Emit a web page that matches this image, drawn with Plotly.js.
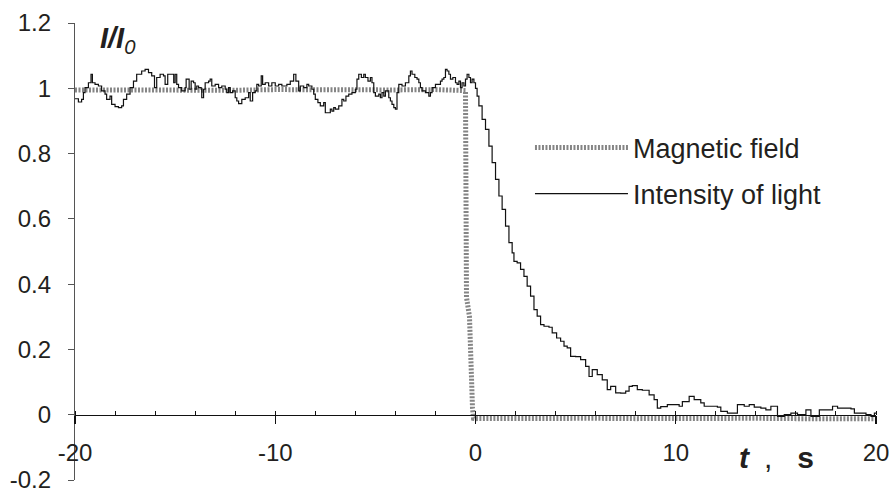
<!DOCTYPE html>
<html>
<head>
<meta charset="utf-8">
<script src="https://cdn.plot.ly/plotly-3.0.1.min.js"></script>
<style>html,body{margin:0;padding:0;background:#fff;}#chart{width:889px;height:493px;}</style>
</head>
<body>
<div id="chart"></div>
<script>
// Intensity of light (I/I0) vs time t, s
var lightT = [
-20,-19.83,-19.67,-19.58,-19.5,-19.33,-19.2,-19.13,-19.0,-18.83,-18.67,-18.5,-18.42,-18.25,-18.17,-18.0,-17.83,-17.67,-17.58,-17.42,
-17.25,-17.08,-16.92,-16.67,-16.5,-16.33,-16.17,-16.03,-15.92,-15.75,-15.58,-15.5,-15.37,-15.17,-15.07,-15.0,-14.92,
-14.83,-14.67,-14.5,-14.45,-14.3,-14.2,-14.08,-14.0,-13.92,-13.83,-13.7,-13.67,-13.58,-13.5,-13.33,-13.25,-13.17,-13.0,
-12.83,-12.67,-12.5,-12.42,-12.33,-12.25,-12.13,-12.0,-11.92,-11.83,-11.67,-11.5,-11.33,-11.25,-11.13,-11.0,-10.92,-10.83,
-10.7,-10.63,-10.5,-10.33,-10.17,-10.0,
-9.83,-9.67,-9.42,-9.25,-9.08,-8.97,-8.83,-8.75,-8.58,-8.42,-8.33,-8.17,-8.08,-8.0,-7.87,-7.75,-7.58,-7.5,-7.25,-7.17,
-7.08,-7.0,-6.83,-6.67,-6.58,-6.47,-6.33,-6.17,-6.0,-5.92,-5.83,-5.7,-5.58,-5.5,-5.37,-5.25,-5.17,-5.08,-5.0,
-4.83,-4.75,-4.67,-4.58,-4.5,-4.33,-4.25,-4.17,-4.08,-4.0,-3.92,-3.83,-3.67,-3.5,-3.33,-3.25,-3.17,-3.03,-2.92,-2.83,
-2.75,-2.67,-2.5,-2.33,-2.25,-2.17,-2.0,-1.75,-1.67,-1.58,-1.5,-1.42,-1.33,-1.25,-1.13,-1.0,-0.92,-0.83,-0.75,-0.67,
-0.58,-0.5,-0.42,-0.33,-0.25,-0.17,-0.08,
0.0,0.08,0.17,0.33,0.5,0.67,0.83,1.0,1.17,1.33,1.5,1.67,1.83,1.92,2.08,2.25,2.42,2.58,2.75,2.92,3.08,3.25,3.42,3.67,3.83,
4.05,4.25,4.42,4.58,4.75,5.0,5.25,5.5,5.67,5.83,6.08,6.33,6.58,6.75,7.0,7.25,7.5,7.67,7.83,8.08,8.33,8.67,8.92,9.08,9.25,
9.58,9.92,10.17,10.33,10.67,10.92,11.25,11.42,11.75,12.08,12.25,12.58,12.92,13.08,13.42,13.67,13.92,14.25,14.5,14.75,
15.08,15.42,15.75,16.08,16.5,16.75,17.17,17.58,17.83,18.08,18.42,18.75,18.92,19.25,19.5,19.75,19.92,20
];
var lightI = [
0.968,0.958,0.966,0.987,1.002,1.017,1.043,1.017,1.012,1.007,0.992,0.982,0.966,0.976,0.951,0.944,0.941,0.946,0.966,0.982,
1.002,1.022,1.043,1.053,1.058,1.048,1.038,1.002,1.033,1.043,1.038,1.012,1.043,1.043,1.017,1.043,1.012,
1.002,0.992,1.002,1.028,0.997,1.022,1.017,0.997,1.007,1.002,0.997,0.971,0.997,1.017,1.022,1.028,1.007,1.012,
1.002,1.007,0.997,0.987,1.002,0.987,0.992,0.971,0.961,0.953,0.966,0.971,0.987,0.961,0.987,0.992,1.012,1.007,
1.038,1.012,1.017,1.007,1.017,1.007,
1.012,1.007,1.012,1.022,1.043,1.022,0.992,1.007,1.002,1.012,1.007,0.997,0.982,0.966,0.956,0.946,0.956,0.925,0.936,0.930,
0.941,0.936,0.946,0.966,0.961,0.976,0.982,0.987,0.997,1.028,1.043,1.033,1.043,1.033,1.022,1.033,1.017,0.987,0.976,
0.982,0.971,0.987,0.976,0.992,0.971,0.961,0.951,0.941,0.936,0.987,1.012,1.007,1.017,1.038,1.053,1.043,1.033,1.028,1.017,
1.002,0.992,0.987,0.976,0.987,1.002,1.012,1.022,1.028,1.033,1.058,1.053,1.043,1.028,1.033,1.017,1.012,1.022,1.002,1.017,
1.007,1.028,1.043,1.033,1.017,1.028,1.017,
1.0,0.976,0.946,0.905,0.874,0.823,0.772,0.721,0.670,0.629,0.578,0.527,0.496,0.470,0.465,0.445,0.424,0.394,0.363,0.322,0.302,0.276,0.271,0.268,0.251,
0.235,0.225,0.21,0.205,0.179,0.178,0.169,0.148,0.117,0.138,0.123,0.107,0.077,0.087,0.067,0.066,0.072,0.087,0.089,0.077,0.075,0.061,0.046,0.02,0.025,
0.031,0.031,0.026,0.04,0.056,0.046,0.036,0.026,0.026,0.023,0.01,0.005,0.005,0.031,0.026,0.031,0.023,0.02,0.015,0.026,
-0.005,0.0,0.005,0.0,0.015,-0.005,0.015,0.015,0.026,0.02,0.02,0.018,0.005,0.005,0.0,-0.005,0.005,0.005
];

// Magnetic field (normalised)
var fieldT = [-20,-18,-16,-14,-12,-10,-8,-6,-4,-2,-0.8,-0.5,-0.45,-0.3,-0.15,-0.1,0,2,4,6,8,10,12,14,16,18,20];
var fieldV = [0.995,0.994,0.996,0.995,0.994,0.996,0.995,0.996,0.995,0.996,0.995,0.993,0.36,0.3,0.02,-0.011,-0.012,-0.011,-0.012,-0.011,-0.012,-0.011,-0.012,-0.011,-0.012,-0.011,-0.012];

var xTickVals = [-20,-10,0,10,20];
var xTickText = ['-20','-10','0','10','20'];
var yTickVals = [-0.2,0,0.2,0.4,0.6,0.8,1,1.2];
var yTickText = ['-0.2','0','0.2','0.4','0.6','0.8','1','1.2'];

var seriesNames = ['Magnetic field','Intensity of light'];

var FONT = 'Liberation Sans, Arial, sans-serif';
var TXT = '#231f20';

var traces = [
  {x: fieldT, y: fieldV, mode: 'lines', name: seriesNames[0], legendgroup: 'a',
   line: {color: '#858585', width: 5, dash: '2px,1.5px'}},
  {x: lightT, y: lightI, mode: 'lines', name: seriesNames[1], legendgroup: 'b',
   line: {color: '#111111', width: 1.2, shape: 'hv'}}
];

var layout = {
  width: 889, height: 493,
  margin: {l: 75, r: 13, t: 23, b: 13, pad: 0},
  paper_bgcolor: '#ffffff', plot_bgcolor: '#ffffff',
  font: {family: FONT, size: 24, color: TXT},
  showlegend: true,
  legend: {x: 0.568, y: 0.78, xanchor: 'left', yanchor: 'top', bgcolor: 'rgba(0,0,0,0)',
    font: {family: FONT, size: 27, color: TXT}, itemwidth: 93, tracegroupgap: 8, traceorder: 'grouped'},
  xaxis: {range: [-20, 20], anchor: 'free', position: 0.2/1.4,
    showline: true, linecolor: '#111', linewidth: 1.2, showgrid: false, zeroline: false,
    tickmode: 'array', tickvals: xTickVals, ticktext: xTickText,
    ticks: 'outside', ticklen: 8, tickcolor: '#111', tickwidth: 1.2,
    minor: {tickmode: 'linear', tick0: -20, dtick: 2, ticks: 'inside', ticklen: 4, tickcolor: '#111', tickwidth: 1},
    ticklabelstandoff: 8, ticklabeloverflow: 'allow',
    tickfont: {family: FONT, size: 24, color: TXT}},
  yaxis: {range: [-0.2, 1.2], showline: true, linecolor: '#555', linewidth: 1.2, showgrid: false, zeroline: false,
    tickmode: 'array', tickvals: yTickVals, ticktext: yTickText,
    ticks: 'outside', ticklen: 6, tickcolor: '#555',
    ticklabelstandoff: 12, ticklabeloverflow: 'allow',
    tickfont: {family: FONT, size: 24, color: TXT}},
  annotations: [
    {xref: 'paper', yref: 'paper', x: 0.029, y: 0.963, xanchor: 'left', yanchor: 'middle', showarrow: false,
     text: '<b><i>I/I</i></b><i><sub>0</sub></i>', font: {family: FONT, size: 29, color: TXT}},
    {xref: 'paper', yref: 'paper', x: 0.827, y: 0.05, xanchor: 'left', yanchor: 'middle', showarrow: false,
     text: '<b><i>t</i></b>\u2002,\u00a0\u00a0\u00a0<b>s</b>', font: {family: FONT, size: 30, color: TXT}}
  ]
};

Plotly.newPlot('chart', traces, layout, {staticPlot: true, displayModeBar: false});
</script>
</body>
</html>
